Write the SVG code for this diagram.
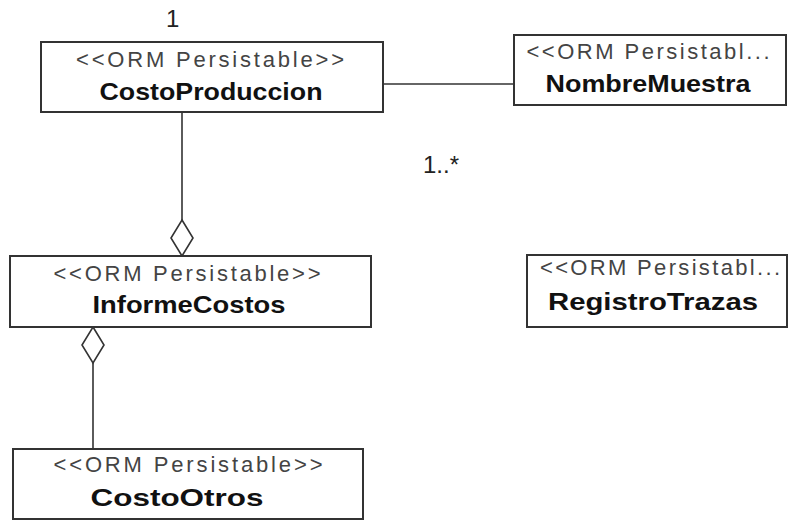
<svg xmlns="http://www.w3.org/2000/svg" width="790" height="520" viewBox="0 0 790 520">
  <style>
    .box { fill: #ffffff; stroke: #333333; stroke-width: 2; }
    .st { font-family: "Liberation Sans", Arial, sans-serif; font-size: 22px; fill: #444444; text-anchor: middle; }
    .nm { font-family: "Liberation Sans", Arial, sans-serif; font-size: 24px; font-weight: bold; fill: #111111; text-anchor: middle; }
    .mult { font-family: "Liberation Sans", Arial, sans-serif; font-size: 24px; fill: #222222; }
    .edge { fill: none; stroke: #333333; stroke-width: 1.6; }
    .agg { fill: #ffffff; stroke: #333333; stroke-width: 1.6; }
  </style>
  <rect width="790" height="520" fill="#ffffff"/>

  <!-- associations and aggregations -->
  <g id="connectors">
    <line class="edge" x1="383" y1="84" x2="514" y2="84"/>
    <line class="edge" x1="182" y1="112" x2="182" y2="220"/>
    <polygon class="agg" points="182,220 193,238 182,256 171,238"/>
    <line class="edge" x1="93" y1="363" x2="93" y2="449"/>
    <polygon class="agg" points="93,327 104,345 93,363 82,345"/>
    <text class="mult" x="166" y="27">1</text>
    <text class="mult" x="423" y="173">1..*</text>
  </g>

  <g id="CostoProduccion">
    <rect class="box" x="41" y="42" width="342" height="70"/>
    <text class="st" x="210" y="67" textLength="268" lengthAdjust="spacing">&lt;&lt;ORM Persistable&gt;&gt;</text>
    <text class="nm" x="211" y="100" textLength="223" lengthAdjust="spacingAndGlyphs">CostoProduccion</text>
  </g>

  <g id="NombreMuestra">
    <rect class="box" x="514" y="35" width="272" height="70"/>
    <text class="st" x="648" y="59" textLength="243" lengthAdjust="spacing">&lt;&lt;ORM Persistabl...</text>
    <text class="nm" x="648" y="92" textLength="205" lengthAdjust="spacingAndGlyphs">NombreMuestra</text>
  </g>

  <g id="InformeCostos">
    <rect class="box" x="10" y="256" width="361" height="71"/>
    <text class="st" x="187" y="281" textLength="267" lengthAdjust="spacing">&lt;&lt;ORM Persistable&gt;&gt;</text>
    <text class="nm" x="189" y="313" textLength="193" lengthAdjust="spacingAndGlyphs">InformeCostos</text>
  </g>

  <g id="RegistroTrazas">
    <rect class="box" x="527" y="255" width="260" height="72"/>
    <text class="st" x="660" y="275" textLength="240" lengthAdjust="spacing">&lt;&lt;ORM Persistabl...</text>
    <text class="nm" x="653" y="310" textLength="210" lengthAdjust="spacingAndGlyphs">RegistroTrazas</text>
  </g>

  <g id="CostoOtros">
    <rect class="box" x="13" y="449" width="350" height="70"/>
    <text class="st" x="188" y="472" textLength="269" lengthAdjust="spacing">&lt;&lt;ORM Persistable&gt;&gt;</text>
    <text class="nm" x="177" y="506" textLength="173" lengthAdjust="spacingAndGlyphs">CostoOtros</text>
  </g>
</svg>
